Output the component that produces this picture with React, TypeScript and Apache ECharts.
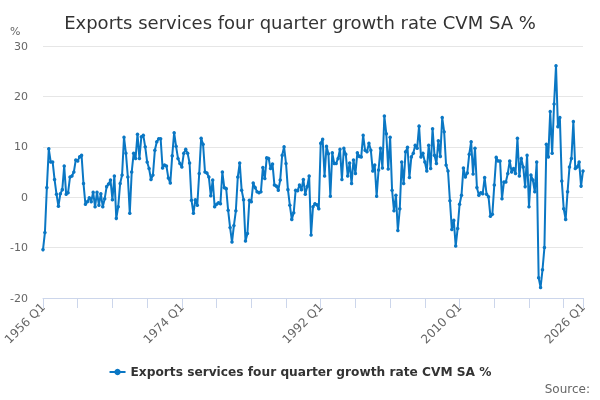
import { useEffect, useRef } from 'react';
import * as echarts from 'echarts';

// quarters run from 1956 Q1 to 2026 Q1
const startYear = 1956;
const quarterCount = 281;
const quarters: string[] = [];
for (let i = 0; i < quarterCount; i++) {
    quarters.push(`${startYear + Math.floor(i / 4)} Q${(i % 4) + 1}`);
}

// four quarter growth rate, %
const growth: number[] = [
    -10.4, -7.0, 1.9, 9.6, 7.0, 7.0, 3.5, 0.6, -1.8, 0.7,
    1.5, 6.2, 0.6, 0.9, 4.0, 4.2, 5.0, 7.4, 7.2, 8.0,
    8.3, 2.7, -1.4, -0.9, -0.1, -0.9, 1.0, -1.9, 1.0, -1.6,
    0.7, -1.9, -0.3, 2.1, 2.6, 3.4, -0.5, 4.2, -4.2, -1.9,
    2.7, 4.4, 11.9, 8.7, 4.0, -3.2, 5.0, 8.7, 7.7, 12.5,
    7.7, 12.0, 12.3, 10.0, 7.0, 5.7, 3.5, 4.4, 9.3, 11.0,
    11.6, 11.6, 5.8, 6.4, 6.2, 3.8, 2.8, 8.2, 12.8, 10.1,
    7.7, 6.7, 6.0, 8.7, 9.5, 8.7, 6.8, -0.6, -3.2, -0.5,
    -1.6, 4.7, 11.7, 10.5, 5.0, 4.8, 4.0, 0.3, 3.4, -1.9,
    -1.4, -1.1, -1.3, 5.0, 1.9, 1.7, -2.6, -6.0, -8.9, -5.6,
    -2.7, 4.0, 6.8, 1.4, -0.5, -8.7, -7.2, -0.6, -0.9, 2.8,
    1.9, 1.1, 0.9, 1.1, 5.9, 3.7, 7.8, 7.7, 5.7, 6.6,
    2.4, 2.2, 1.4, 3.4, 8.3, 10.0, 6.7, 1.5, -1.6, -4.4,
    -3.1, 1.4, 1.3, 2.4, 1.5, 3.5, 0.6, 2.1, 4.2, -7.5,
    -1.9, -1.3, -1.5, -2.3, 10.7, 11.5, 4.2, 10.1, 8.6, 0.2,
    8.8, 6.7, 6.7, 7.7, 9.5, 3.5, 9.7, 8.5, 4.2, 6.8,
    2.7, 7.4, 4.7, 8.8, 8.1, 8.0, 12.3, 9.3, 9.0, 10.7,
    9.3, 5.2, 6.4, 0.2, 5.4, 9.7, 5.8, 16.1, 12.6, 5.6,
    11.9, 1.4, -2.7, 0.4, -6.6, -2.3, 7.0, 2.7, 9.0, 9.9,
    3.9, 8.0, 8.7, 10.3, 9.7, 14.1, 8.0, 8.7, 7.0, 5.2,
    10.3, 5.7, 13.6, 8.3, 6.7, 11.2, 8.1, 15.8, 13.0, 6.4,
    5.2, -0.7, -6.4, -4.6, -9.7, -6.2, -1.4, 0.4, 5.8, 4.0,
    4.8, 8.5, 11.0, 4.6, 9.7, 1.9, 0.4, 0.9, 0.7, 3.9,
    0.6, 0.1, -3.8, -3.4, 2.4, 7.9, 7.2, 7.2, -0.3, 3.0,
    3.0, 4.7, 7.2, 5.0, 5.7, 4.7, 11.7, 4.2, 7.7, 6.0,
    2.1, 8.3, -1.9, 4.4, 3.4, 1.1, 7.0, -16.0, -17.9, -14.4,
    -10.0, 10.5, 8.0, 17.0, 8.7, 18.5, 26.1, 14.0, 15.8, 3.2,
    -2.3, -4.4, 1.1, 6.0, 7.7, 15.0, 5.7, 6.0, 7.0, 2.2,
    5.2,
];

const seriesName = 'Exports services four quarter growth rate CVM SA %';
const font = '"DejaVu Sans", sans-serif';

export default function App() {
    const chartRef = useRef<HTMLDivElement>(null);

    useEffect(() => {
        if (!chartRef.current) return;
        const chart = echarts.init(chartRef.current, undefined, { renderer: 'svg' });
        const last = quarters.length - 1;

        chart.setOption({
            animation: false,
            textStyle: { fontFamily: font },
            title: {
                text: seriesName,
                left: 'center',
                top: 8,
                textStyle: { fontSize: 18, fontWeight: 'normal', color: '#333', fontFamily: font },
            },
            grid: { left: 43, right: 17, top: 46, bottom: 102, containLabel: false },
            legend: {
                bottom: 17,
                left: 'center',
                itemWidth: 16,
                itemHeight: 8,
                itemGap: 6,
                textStyle: { fontSize: 12.2, fontWeight: 'bold', color: '#333', fontFamily: font },
                data: [seriesName],
            },
            xAxis: {
                type: 'category',
                data: quarters,
                boundaryGap: false,
                // keep the axis at the bottom (-20), not at zero
                axisLine: { onZero: false, lineStyle: { color: '#ccd6eb' } },
                axisTick: {
                    show: true,
                    length: 10,
                    lineStyle: { color: '#ccd6eb', width: 1 },
                    interval: (i: number) => i % 18 === 0 || i === last,
                },
                axisLabel: {
                    interval: (i: number) => i % 72 === 0 || i === last,
                    rotate: 45,
                    fontSize: 12,
                    color: '#666',
                    margin: 7,
                    fontFamily: font,
                },
                splitLine: { show: false },
            },
            yAxis: {
                type: 'value',
                min: -20,
                max: 30,
                interval: 10,
                axisLine: { show: false },
                axisTick: { show: false },
                axisLabel: { fontSize: 11, color: '#666', margin: 15, fontFamily: font },
                splitLine: { lineStyle: { color: '#e6e6e6' } },
            },
            graphic: [
                { type: 'text', left: 10, top: 26, style: { text: '%', fontSize: 11, fill: '#666', fontFamily: font } },
                { type: 'text', right: 10, top: 383, style: { text: 'Source:', fontSize: 12, fill: '#666', fontFamily: font } },
            ],
            series: [
                {
                    name: seriesName,
                    type: 'line',
                    data: growth,
                    color: '#0a77c4',
                    lineStyle: { width: 2 },
                    symbol: 'circle',
                    symbolSize: 3.5,
                    showSymbol: true,
                    showAllSymbol: true,
                },
            ],
        });

        return () => {
            chart.dispose();
        };
    }, []);

    return (
        <div
            ref={chartRef}
            style={{ position: 'fixed', left: 0, top: 0, width: '600px', height: '400px' }}
        />
    );
}
